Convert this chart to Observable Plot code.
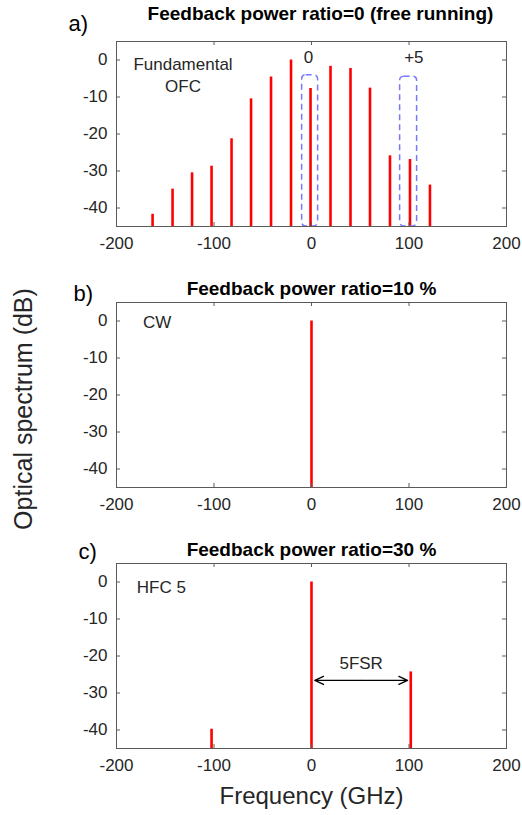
<!DOCTYPE html>
<html><head><meta charset="utf-8">
<script src="https://cdn.jsdelivr.net/npm/d3@7"></script>
<script src="https://cdn.jsdelivr.net/npm/@observablehq/plot@0.6"></script>
<style>
body{margin:0;background:#fff;}
#fig{position:relative;width:522px;height:815px;overflow:hidden;font-family:"Liberation Sans",Arial,sans-serif;background:#fff;}
#fig svg{position:absolute;left:0;}
#ylab{position:absolute;left:23px;top:409px;transform:translate(-50%,-50%) rotate(-90deg);font-size:25px;line-height:1;white-space:nowrap;color:#262626;}
</style></head><body><div id="fig"><div id="ylab">Optical spectrum (dB)</div></div>
<script>
// ---- data ----
const xDomain = [-200, 200];
const yDomain = [-45, 5];
const xTicks = [-200, -100, 0, 100, 200];
const yTicks = [-40, -30, -20, -10, 0];

// panel a: free running comb
const freqA = [-163, -142.5, -122.5, -102.5, -82, -62, -41.5, -21, -1, 19.5, 40, 60, 80.5, 101, 121.5];
const powA  = [-41.7, -34.9, -30.5, -28.7, -21.3, -10.5, -4.6, 0, -7.7, -1.7, -2.3, -7.6, -25.9, -26.9, -33.8];
const boxX1 = [-9.6, 90.9];
const boxX2 = [6.8, 108.3];
const boxTop = [-4.1, -4.5];
const boxLabels = ["0", "+5"];
const boxLabelX = [-3, 105];
const boxLabelY = [0.6, 0.6];

// panel b: CW
const freqB = [0];
const powB  = [0];

// panel c: HFC 5
const freqC = [-102.5, 0, 101.8];
const powC  = [-39.8, 0, -24.3];
const arrowX = [3.4, 98.5];
const arrowY = -26.6;

const titles = ["Feedback power ratio=0 (free running)", "Feedback power ratio=10 %", "Feedback power ratio=30 %"];
const tags = ["a)", "b)", "c)"];
const notes = [["Fundamental", "OFC"], ["CW"], ["HFC 5"]];
const noteX = [[-131.8, -131.8], [-158.3], [-154]];
const noteY = [[-1.25, -7.05], [-0.3], [-1.5]];
const xLabel = "Frequency (GHz)";

// ---- drawing ----
const axisColor = "#5a5a5a";
const textColor = "#262626";
const fontFamily = "'Liberation Sans', Arial, sans-serif";
const ML = 116, MR = 16, MT = 41, W = 522;
const fmt = d => (d < 0 ? "-" + Math.abs(d) : String(d));

function panel(i, {top, height, marginBottom, freq, pow, extra, titleDx, titleDy, tagDx, tagDy, withXLabel}) {
  const FW = W - ML - MR, FH = height - MT - marginBottom;
  const data = freq.map((f, k) => ({f, p: pow[k]}));
  const noteData = notes[i].map((t, k) => ({t, x: noteX[i][k], y: noteY[i][k]}));
  const marks = [
    Plot.ruleX(data, {x: "f", y1: yDomain[0], y2: "p", stroke: "#ff0000", strokeWidth: 2.6}),
    ...extra,
    Plot.frame({stroke: axisColor, strokeWidth: 1}),
    Plot.tickX(xTicks, {x: d => d, insetTop: FH - 4, stroke: axisColor}),
    Plot.tickX(xTicks, {x: d => d, insetBottom: FH - 4, stroke: axisColor}),
    Plot.tickY(yTicks, {y: d => d, insetRight: FW - 4, stroke: axisColor}),
    Plot.tickY(yTicks, {y: d => d, insetLeft: FW - 4, stroke: axisColor}),
    Plot.text(noteData, {x: "x", y: "y", text: "t", fontSize: 17, fill: textColor, textAnchor: "middle", lineAnchor: "middle"}),
    Plot.text([titles[i]], {text: d => d, frameAnchor: "top", dx: titleDx, dy: titleDy, lineAnchor: "bottom", fontWeight: "bold", fontSize: 19, fill: "#000"}),
    Plot.text([tags[i]], {text: d => d, frameAnchor: "top-left", textAnchor: "start", dx: tagDx, dy: tagDy, lineAnchor: "bottom", fontSize: 22, fill: "#000"})
  ];
  if (withXLabel) {
    marks.push(Plot.text([xLabel], {text: d => d, frameAnchor: "bottom", dy: 55, lineAnchor: "bottom", fontSize: 24, fill: textColor}));
  }
  const svg = Plot.plot({
    width: W, height,
    marginLeft: ML, marginRight: MR, marginTop: MT, marginBottom,
    style: {fontFamily, fontSize: "17px", color: textColor, background: "transparent", overflow: "visible"},
    x: {domain: xDomain, ticks: xTicks, tickSize: 0, tickPadding: 10, tickFormat: fmt, label: null},
    y: {domain: yDomain, ticks: yTicks, tickSize: 0, tickPadding: 9, tickFormat: fmt, label: null},
    marks
  });
  svg.style.top = top + "px";
  document.getElementById("fig").appendChild(svg);
}

const boxes = boxX1.map((x1, k) => ({x1, x2: boxX2[k], y2: boxTop[k]}));
const boxText = boxLabels.map((t, k) => ({t, x: boxLabelX[k], y: boxLabelY[k]}));
const arrowMid = (arrowX[0] + arrowX[1]) / 2;
const arrows = arrowX.map(x => ({x1: arrowMid, x2: x, y: arrowY}));

panel(0, {top: 0, height: 261, marginBottom: 35, freq: freqA, pow: powA, titleDx: 9, titleDy: -21.5, tagDx: -48, tagDy: -10.3,
  extra: [
    Plot.rect(boxes, {x1: "x1", x2: "x2", y1: yDomain[0], y2: "y2", rx: 4, fill: "none", stroke: "#7878ff", strokeWidth: 1.5, strokeDasharray: "6,4"}),
    Plot.text(boxText, {x: "x", y: "y", text: "t", fontSize: 17, fill: textColor})
  ]});
panel(1, {top: 261, height: 261, marginBottom: 35, freq: freqB, pow: powB, titleDx: 0, titleDy: -7.7, tagDx: -43, tagDy: -2, extra: []});
panel(2, {top: 522, height: 293, marginBottom: 67, freq: freqC, pow: powC, titleDx: 0, titleDy: -8, tagDx: -38, tagDy: -4.7, withXLabel: true,
  extra: [
    Plot.arrow(arrows, {x1: "x1", x2: "x2", y1: "y", y2: "y", stroke: "#000", strokeWidth: 1.3, headLength: 11, headAngle: 50}),
    Plot.text(["5FSR"], {text: d => d, x: arrowMid, y: -22.1, fontSize: 17, fill: textColor})
  ]});
</script></body></html>
